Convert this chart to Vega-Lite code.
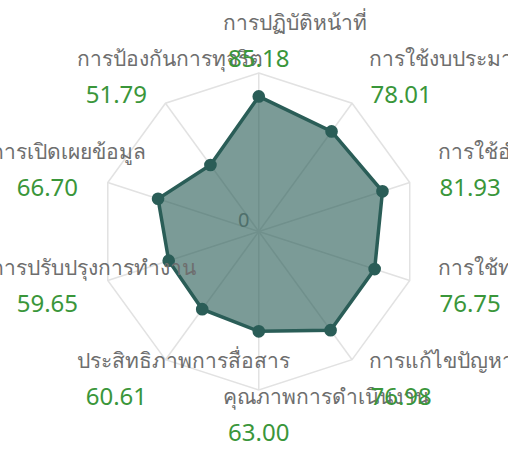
{
  "$schema": "https://vega.github.io/schema/vega-lite/v6.json",
  "width": 508,
  "height": 455,
  "autosize": {"type": "none"},
  "padding": 0,
  "background": "white",
  "config": {"view": {"stroke": null}, "font": "Noto Sans"},
  "data": {"values": [
    {"i": 0, "label": "การปฏิบัติหน้าที่", "value": 85.18},
    {"i": 1, "label": "การใช้งบประมาณ", "value": 78.01},
    {"i": 2, "label": "การใช้อำนาจ", "value": 81.93},
    {"i": 3, "label": "การใช้ทรัพย์สินของราชการ", "value": 76.75},
    {"i": 4, "label": "การแก้ไขปัญหาการทุจริต", "value": 76.98},
    {"i": 5, "label": "คุณภาพการดำเนินงาน", "value": 63.00},
    {"i": 6, "label": "ประสิทธิภาพการสื่อสาร", "value": 60.61},
    {"i": 7, "label": "การปรับปรุงการทำงาน", "value": 59.65},
    {"i": 8, "label": "การเปิดเผยข้อมูล", "value": 66.70},
    {"i": 9, "label": "การป้องกันการทุจริต", "value": 51.79}
  ]},
  "transform": [
    {"calculate": "datum.i * PI / 5", "as": "a"},
    {"calculate": "sin(datum.a)", "as": "s"},
    {"calculate": "cos(datum.a)", "as": "c"},
    {"calculate": "datum.value * datum.s", "as": "px"},
    {"calculate": "datum.value * datum.c", "as": "py"},
    {"calculate": "100 * datum.s", "as": "gx"},
    {"calculate": "100 * datum.c", "as": "gy"},
    {"calculate": "0", "as": "z"},
    {"calculate": "119.7 * datum.s", "as": "vx"},
    {"calculate": "117.7 * datum.c - 9.8", "as": "vy"},
    {"calculate": "datum.vy + 22.7", "as": "ly"},
    {"calculate": "datum.s > 0.1 ? 118.4 * datum.s : (datum.s < -0.8 ? 119.7 * datum.s - 55 : (datum.s < -0.1 ? 119.7 * datum.s - 44 : -22.7))", "as": "lx"},
    {"calculate": "format(datum.value, '.2f')", "as": "vt"}
  ],
  "layer": [
    {
      "mark": {"type": "rule", "color": "#e2e2e2", "strokeWidth": 1.5},
      "encoding": {
        "x": {"field": "z", "type": "quantitative", "scale": {"domain": [-163, 157], "nice": false, "zero": false}, "axis": null},
        "y": {"field": "z", "type": "quantitative", "scale": {"domain": [-141, 146], "nice": false, "zero": false}, "axis": null},
        "x2": {"field": "gx"},
        "y2": {"field": "gy"}
      }
    },
    {
      "mark": {"type": "line", "interpolate": "linear-closed", "color": "#e2e2e2", "strokeWidth": 1.5},
      "encoding": {
        "x": {"field": "gx", "type": "quantitative", "scale": {"domain": [-163, 157], "nice": false, "zero": false}, "axis": null},
        "y": {"field": "gy", "type": "quantitative", "scale": {"domain": [-141, 146], "nice": false, "zero": false}, "axis": null},
        "order": {"field": "i"}
      }
    },
    {
      "transform": [{"filter": "datum.i == 0"}],
      "mark": {"type": "text", "fontSize": 20, "color": "#8c8c8c", "dx": -15, "dy": -10},
      "encoding": {
        "x": {"field": "z", "type": "quantitative", "scale": {"domain": [-163, 157], "nice": false, "zero": false}, "axis": null},
        "y": {"field": "z", "type": "quantitative", "scale": {"domain": [-141, 146], "nice": false, "zero": false}, "axis": null},
        "text": {"value": "0"}
      }
    },
    {
      "mark": {"type": "line", "interpolate": "linear-closed", "stroke": "#2a5d57", "strokeWidth": 3.5, "fill": "#2a5d57", "fillOpacity": 0.62},
      "encoding": {
        "x": {"field": "px", "type": "quantitative", "scale": {"domain": [-163, 157], "nice": false, "zero": false}, "axis": null},
        "y": {"field": "py", "type": "quantitative", "scale": {"domain": [-141, 146], "nice": false, "zero": false}, "axis": null},
        "order": {"field": "i"}
      }
    },
    {
      "mark": {"type": "circle", "size": 160, "color": "#2a5d57", "opacity": 1},
      "encoding": {
        "x": {"field": "px", "type": "quantitative", "scale": {"domain": [-163, 157], "nice": false, "zero": false}, "axis": null},
        "y": {"field": "py", "type": "quantitative", "scale": {"domain": [-141, 146], "nice": false, "zero": false}, "axis": null}
      }
    },
    {
      "mark": {"type": "text", "align": "left", "baseline": "middle", "fontSize": 21, "color": "#6e6e6e"},
      "encoding": {
        "x": {"field": "lx", "type": "quantitative", "scale": {"domain": [-163, 157], "nice": false, "zero": false}, "axis": null},
        "y": {"field": "ly", "type": "quantitative", "scale": {"domain": [-141, 146], "nice": false, "zero": false}, "axis": null},
        "text": {"field": "label"}
      }
    },
    {
      "transform": [{"filter": "datum.s > 0.1"}],
      "mark": {"type": "text", "align": "left", "baseline": "middle", "fontSize": 24, "color": "#3a963a"},
      "encoding": {
        "x": {"field": "vx", "type": "quantitative", "scale": {"domain": [-163, 157], "nice": false, "zero": false}, "axis": null},
        "y": {"field": "vy", "type": "quantitative", "scale": {"domain": [-141, 146], "nice": false, "zero": false}, "axis": null},
        "text": {"field": "vt"}
      }
    },
    {
      "transform": [{"filter": "datum.s < -0.1"}],
      "mark": {"type": "text", "align": "right", "baseline": "middle", "fontSize": 24, "color": "#3a963a"},
      "encoding": {
        "x": {"field": "vx", "type": "quantitative", "scale": {"domain": [-163, 157], "nice": false, "zero": false}, "axis": null},
        "y": {"field": "vy", "type": "quantitative", "scale": {"domain": [-141, 146], "nice": false, "zero": false}, "axis": null},
        "text": {"field": "vt"}
      }
    },
    {
      "transform": [{"filter": "datum.s >= -0.1 && datum.s <= 0.1"}],
      "mark": {"type": "text", "align": "center", "baseline": "middle", "fontSize": 24, "color": "#3a963a"},
      "encoding": {
        "x": {"field": "vx", "type": "quantitative", "scale": {"domain": [-163, 157], "nice": false, "zero": false}, "axis": null},
        "y": {"field": "vy", "type": "quantitative", "scale": {"domain": [-141, 146], "nice": false, "zero": false}, "axis": null},
        "text": {"field": "vt"}
      }
    }
  ]
}
